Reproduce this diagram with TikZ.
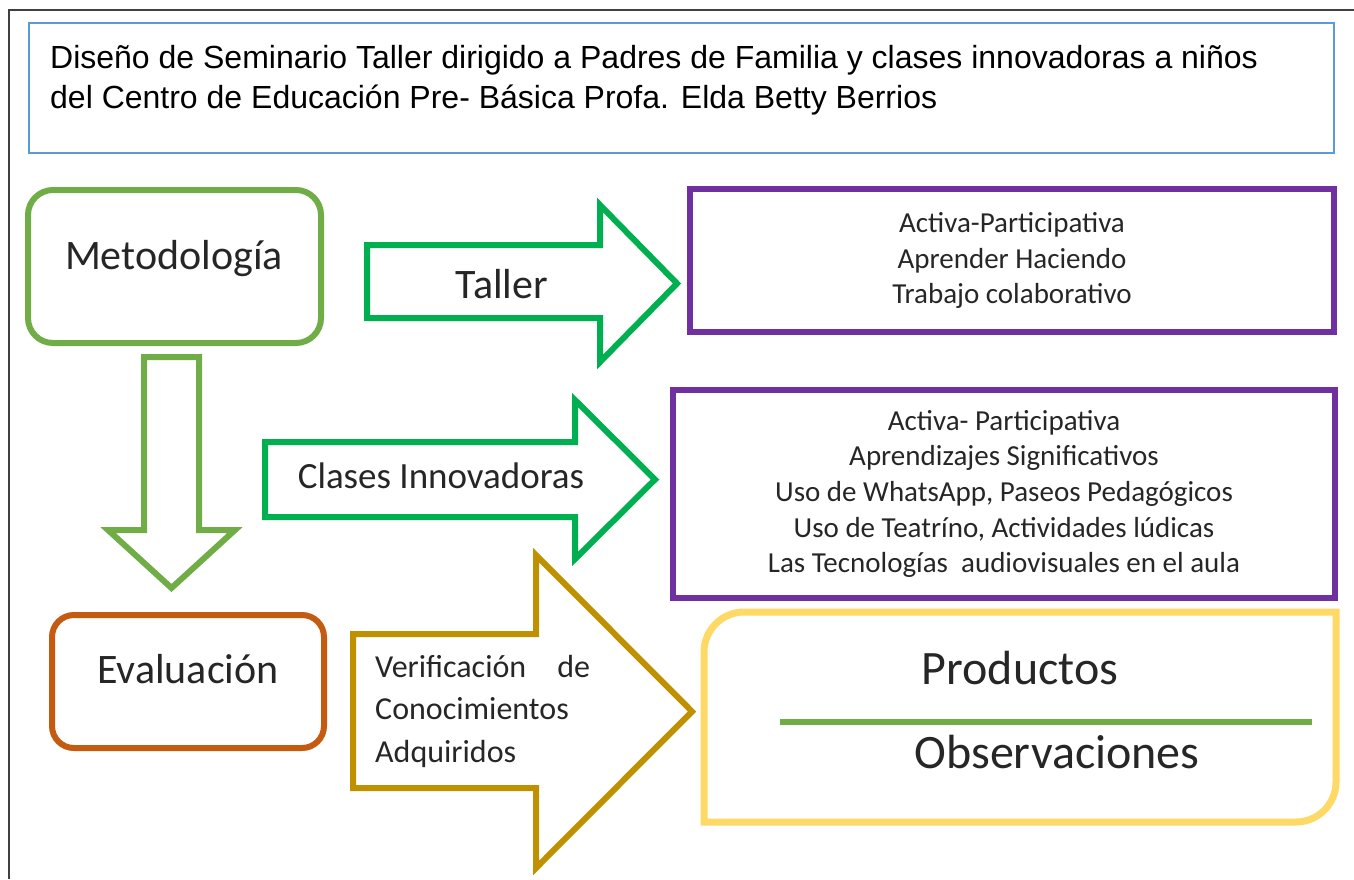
\documentclass[tikz,border=0pt]{standalone}
\usepackage{fontspec}
\setmainfont{Carlito}
\newfontfamily\titlefont{Liberation Sans}
\definecolor{framecol}{HTML}{404040}
\definecolor{titleblue}{HTML}{5B9BD5}
\definecolor{metgreen}{HTML}{70AD47}
\definecolor{arrgreen}{HTML}{00B050}
\definecolor{purp}{HTML}{7030A0}
\definecolor{orng}{HTML}{C55A11}
\definecolor{gold}{HTML}{BF9000}
\definecolor{yel}{HTML}{FFD966}
\definecolor{txt}{HTML}{262626}
\begin{document}
\begin{tikzpicture}[x=1pt,y=-1pt,
  lbl/.style={inner sep=0pt, anchor=base, text=txt},
  blockarrow/.style={line width=6pt, line join=miter},
  purpbox/.style={draw=purp, line width=6pt, inner sep=0pt, align=center, text=txt,
     font=\fontsize{29}{35.7}\selectfont},
  roundbox/.style={line width=6pt, inner sep=0pt}
]
\useasboundingbox (0,0) rectangle (1354,879);
% page frame
\draw[framecol, line width=1.5pt] (9,879) -- (9,10) -- (1354,10);
% title
\draw[titleblue, line width=2.5pt] (29,23) rectangle (1334,153);
\node[inner sep=0pt, anchor=base west, align=left, text=black,
  font=\titlefont\fontsize{32}{40}\selectfont] (title) at (50,108)
  {Diseño de Seminario Taller dirigido a Padres de Familia y clases innovadoras a niños\\
   del Centro de Educación Pre- Básica Profa. Elda Betty Berrios};
% Metodologia
\node[roundbox, draw=metgreen, rounded corners=25pt, minimum width=293pt, minimum height=153pt] (met) at (174.5,266.5) {};
\node[lbl, font=\fontsize{42}{50}\selectfont] (mettxt) at (174,269) {Metodología};
% down arrow
\draw[blockarrow, metgreen] (144,357) -- (199,357) -- (199,530) -- (235,530) -- (171.5,588) -- (108,530) -- (144,530) -- cycle;
% Taller arrow
\draw[blockarrow, arrgreen] (367,245) -- (600,245) -- (600,205) -- (677,283.5) -- (600,362) -- (600,318) -- (367,318) -- cycle;
\node[lbl, font=\fontsize{42}{50}\selectfont] (taller) at (502,298) {Taller};
% Taller box
\node[purpbox, minimum width=644pt, minimum height=143pt] (tbox) at (1012,260.5)
  {Activa-Participativa\\Aprender Haciendo\\Trabajo colaborativo};
% Clases arrow
\draw[blockarrow, arrgreen] (265,442) -- (575,442) -- (575,400) -- (655,479.5) -- (575,559) -- (575,517) -- (265,517) -- cycle;
\node[lbl, font=\fontsize{37}{45}\selectfont] (clases) at (441,488) {Clases Innovadoras};
% Clases box
\node[purpbox, minimum width=662pt, minimum height=208pt] (cbox) at (1004,494)
  {Activa- Participativa\\Aprendizajes Significativos\\Uso de WhatsApp, Paseos Pedagógicos\\Uso de Teatríno, Actividades lúdicas\\Las Tecnologías\ \ audiovisuales en el aula};
% Evaluacion
\node[roundbox, draw=orng, rounded corners=22pt, minimum width=272pt, minimum height=133pt] (eval) at (188,681.5) {};
\node[lbl, font=\fontsize{42}{50}\selectfont] (evaltxt) at (188,683) {Evaluación};
% gold arrow
\draw[blockarrow, gold] (353,634) -- (536,634) -- (536,555) -- (692,711.5) -- (536,868) -- (536,788) -- (353,788) -- cycle;
\node[inner sep=0pt, anchor=base west, align=left, text=txt, font=\fontsize{32}{42.5}\selectfont] (verif) at (375,762)
  {\makebox[215pt][s]{Verificación de}\\Conocimientos\\Adquiridos};
% Productos box
\draw[yel, line width=7pt] (744,612) -- (1336,612) -- (1336,782)
  .. controls (1336,804) and (1318,822) .. (1296,822) -- (704,822) -- (704,652)
  .. controls (704,630) and (722,612) .. (744,612) -- cycle;
\node[lbl, font=\fontsize{48}{56}\selectfont] (prod) at (1020,684) {Productos};
\node[lbl, font=\fontsize{48}{56}\selectfont] (obs) at (1057,768) {Observaciones};
\coordinate (sepL) at (780,722);
\coordinate (sepR) at (1312,722);
\draw[metgreen, line width=6pt] (sepL) -- (sepR);
\end{tikzpicture}
\end{document}
